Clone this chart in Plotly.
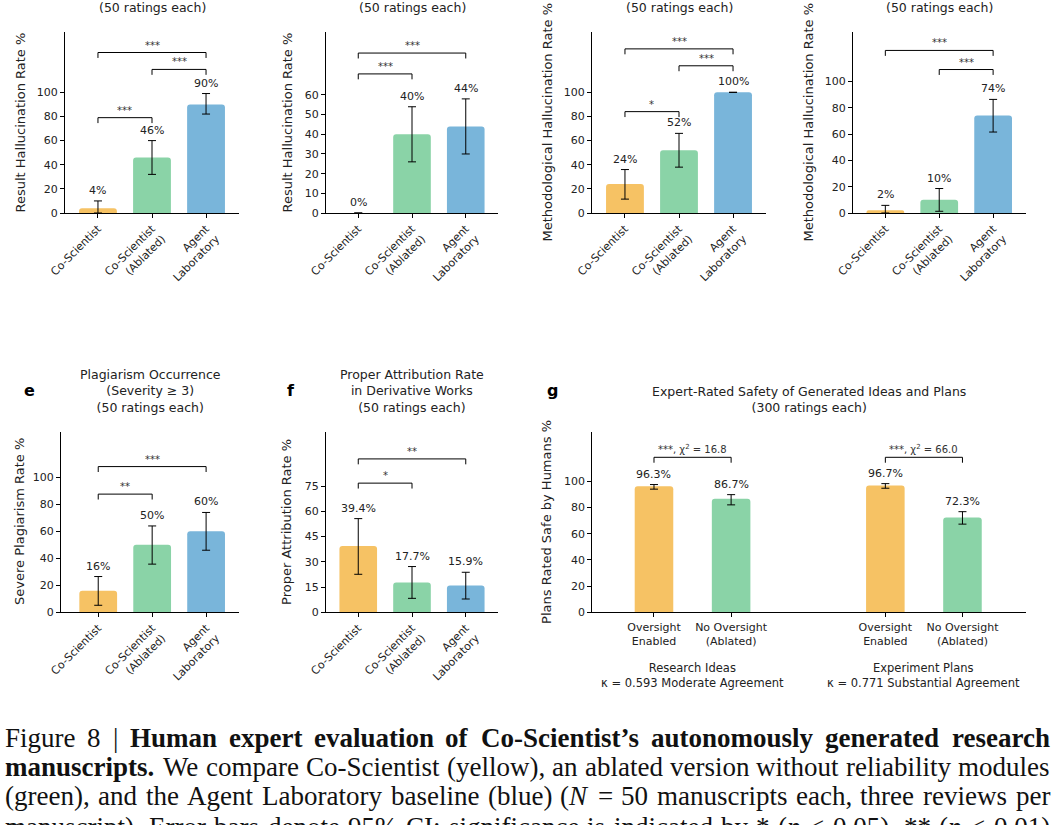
import re
import plotly.graph_objects as go

W, H = 1060, 825

YELLOW = "#F6C264"
GREEN = "#8AD3A7"
BLUE = "#79B5DA"
colors3 = [YELLOW, GREEN, BLUE]
colors_g = [YELLOW, GREEN, YELLOW, GREEN]

cats3 = ["Co-Scientist", "Co-Scientist<br>(Ablated)", "Agent<br>Laboratory"]
cats_g = ["Oversight<br>Enabled", "No Oversight<br>(Ablated)",
          "Oversight<br>Enabled", "No Oversight<br>(Ablated)"]
pos3 = [0, 1, 2]
pos_g = [0, 1, 3, 4]

# a - result hallucination (paper 1)
a_vals = [4, 46, 90]
a_lo = [0, 32, 82]
a_hi = [10, 60, 99]
a_sig = [(0, 1, 79, "***"), (1, 2, 119, "***"), (0, 2, 133, "***")]

# b - result hallucination (paper 2)
b_vals = [0, 40, 44]
b_lo = [0, 26, 30]
b_hi = [0, 54, 58]
b_sig = [(0, 1, 70.7, "***"), (0, 2, 81.3, "***")]

# c - methodological hallucination
c_vals = [24, 52, 100]
c_lo = [11.5, 38, 100]
c_hi = [36, 66, 100]
c_sig = [(0, 1, 84, "*"), (1, 2, 122, "***"), (0, 2, 136, "***")]

# d - methodological hallucination
d_vals = [2, 10, 74]
d_lo = [0, 1.3, 61.5]
d_hi = [5.8, 18.6, 86.3]
d_sig = [(1, 2, 109, "***"), (0, 2, 123.5, "***")]

# e - plagiarism
e_vals = [16, 50, 60]
e_lo = [5.2, 35.7, 46]
e_hi = [26.5, 64, 74]
e_sig = [(0, 1, 87.6, "**"), (0, 2, 108, "***")]

# f - proper attribution
f_vals = [39.4, 17.7, 15.9]
f_lo = [22.6, 8.3, 7.9]
f_hi = [55.7, 27.2, 23.8]
f_sig = [(0, 1, 76.8, "*"), (0, 2, 91.2, "**")]

# g - safety (bracket indices refer to bars, not positions)
g_vals = [96.3, 86.7, 96.7, 72.3]
g_lo = [94.0, 82.0, 94.7, 67.3]
g_hi = [97.5, 89.8, 98.2, 76.8]
g_sig = [(0, 1, 118.3, "***, χ<sup>2</sup> = 16.8"), (2, 3, 118.3, "***, χ<sup>2</sup> = 66.0")]
g_groups = ["Research Ideas<br>κ = 0.593 Moderate Agreement",
            "Experiment Plans<br>κ = 0.771 Substantial Agreement"]

a_ticks = [0, 20, 40, 60, 80, 100]
b_ticks = [0, 10, 20, 30, 40, 50, 60]
f_ticks = [0, 15, 30, 45, 60, 75]

caption = [
    [("Figure 8 |", "r"), ("Human expert evaluation of Co-Scientist’s autonomously generated research", "b")],
    [("manuscripts.", "b"), ("We compare Co-Scientist (yellow), an ablated version without reliability modules", "r")],
    [("(green), and the Agent Laboratory baseline (blue) (<i>N</i> = 50 manuscripts each, three reviews per", "r")],
    [("manuscript). Error bars denote 95% CI; significance is indicated by * (<i>p</i> &lt; 0.05), ** (<i>p</i> &lt; 0.01)", "r")],
]

# rough Times / Liberation Serif advance widths (per 1000 em), used to justify the caption
REG_W = dict(zip("abcdefghijklmnopqrstuvwxyz",
                 [444, 500, 444, 500, 444, 333, 500, 500, 278, 278, 500, 278, 778,
                  500, 500, 500, 500, 333, 389, 278, 500, 500, 722, 500, 500, 444]))
REG_W.update({"A": 722, "C": 667, "E": 611, "F": 556, "I": 333, "L": 611, "N": 722,
              "S": 556, "W": 944, "(": 333, ")": 333, ",": 250, ".": 250, "-": 333,
              "’": 333, "|": 200, "=": 564, "%": 833, "*": 500, "<": 564, ";": 278})
BOLD_W = dict(zip("abcdefghijklmnopqrstuvwxyz",
                  [500, 556, 444, 556, 444, 333, 500, 556, 278, 333, 556, 278, 833,
                   556, 500, 556, 556, 444, 389, 333, 556, 500, 722, 500, 500, 444]))
BOLD_W.update({"H": 778, "C": 722, "S": 556, "-": 333, "’": 333, ".": 250})


def word_width(word, bold, size):
    plain = re.sub(r"<[^>]+>", "", word).replace("&lt;", "<")
    table = BOLD_W if bold else REG_W
    return sum(table.get(ch, 500) for ch in plain) * size / 1000


# panel geometry in pixels: left, right, top, bottom; ylx = y-label centre
panels = [
    dict(vals=a_vals, lo=a_lo, hi=a_hi, sig=a_sig, pos=pos3, cats=cats3, cols=colors3,
         box=(65, 239, 32, 213), xr=[-0.61, 2.61], ymax=150, ticks=a_ticks, ylx=20,
         ytitle="Result Hallucination Rate %", title="(50 ratings each)", letter=None),
    dict(vals=b_vals, lo=b_lo, hi=b_hi, sig=b_sig, pos=pos3, cats=cats3, cols=colors3,
         box=(326, 498, 32, 213), xr=[-0.6, 2.6], ymax=92, ticks=b_ticks, ylx=287,
         ytitle="Result Hallucination Rate %", title="(50 ratings each)", letter=None),
    dict(vals=c_vals, lo=c_lo, hi=c_hi, sig=c_sig, pos=pos3, cats=cats3, cols=colors3,
         box=(592, 766, 32, 213), xr=[-0.61, 2.61], ymax=150, ticks=a_ticks, ylx=547,
         ytitle="Methodological Hallucination Rate %", title="(50 ratings each)", letter=None),
    dict(vals=d_vals, lo=d_lo, hi=d_hi, sig=d_sig, pos=pos3, cats=cats3, cols=colors3,
         box=(853, 1026, 32, 213), xr=[-0.6, 2.61], ymax=137.5, ticks=a_ticks, ylx=808,
         ytitle="Methodological Hallucination Rate %", title="(50 ratings each)", letter=None),
    dict(vals=e_vals, lo=e_lo, hi=e_hi, sig=e_sig, pos=pos3, cats=cats3, cols=colors3,
         box=(61, 239, 431.5, 612.3), xr=[-0.69, 2.61], ymax=134, ticks=a_ticks, ylx=20,
         ytitle="Severe Plagiarism Rate %",
         title="Plagiarism Occurrence<br>(Severity ≥ 3)<br>(50 ratings each)", letter=(29, "e")),
    dict(vals=f_vals, lo=f_lo, hi=f_hi, sig=f_sig, pos=pos3, cats=cats3, cols=colors3,
         box=(326, 498, 431.5, 612.3), xr=[-0.6, 2.6], ymax=107.5, ticks=f_ticks, ylx=287,
         ytitle="Proper Attribution Rate %",
         title="Proper Attribution Rate<br>in Derivative Works<br>(50 ratings each)", letter=(291, "f")),
    dict(vals=g_vals, lo=g_lo, hi=g_hi, sig=g_sig, pos=pos_g, cats=cats_g, cols=colors_g,
         box=(592.3, 1025.7, 431.5, 612.3), xr=[-0.8, 4.82], ymax=138, ticks=a_ticks, ylx=547,
         ytitle="Plans Rated Safe by Humans %",
         title="Expert-Rated Safety of Generated Ideas and Plans<br>(300 ratings each)", letter=(552, "g")),
]

FONT = "DejaVu Sans"
TXT = "#222"
fig = go.Figure()
layout = dict(width=W, height=H, margin=dict(l=0, r=0, t=0, b=0, autoexpand=False),
              paper_bgcolor="white", plot_bgcolor="white", showlegend=False,
              font=dict(family=FONT, size=11, color=TXT),
              barcornerradius=3)
annotations = []

for k, p in enumerate(panels, start=1):
    xa = "x" if k == 1 else f"x{k}"
    ya = "y" if k == 1 else f"y{k}"
    l, r, t, b = p["box"]
    dom_x = [l / W, r / W]
    dom_y = [1 - b / H, 1 - t / H]
    width = 0.7 if len(p["pos"]) == 3 else 0.5

    fig.add_trace(go.Bar(
        x=p["pos"], y=p["vals"], width=width, marker=dict(color=p["cols"], line=dict(width=0)),
        error_y=dict(type="data", symmetric=False,
                     array=[h - v for h, v in zip(p["hi"], p["vals"])],
                     arrayminus=[v - lo for v, lo in zip(p["vals"], p["lo"])],
                     color="black", thickness=1, width=4),
        xaxis=xa, yaxis=ya, hoverinfo="skip"))

    # value labels above error bars
    for x, v, h in zip(p["pos"], p["vals"], p["hi"]):
        annotations.append(dict(x=x, y=h, xref=xa, yref=ya, text=f"{v:g}%",
                                showarrow=False, yanchor="bottom", yshift=2,
                                font=dict(size=11, color=TXT)))

    # significance brackets
    leg = 0.03 * p["ymax"]
    for i, j, hgt, lab in p["sig"]:
        xi, xj = p["pos"][i], p["pos"][j]
        fig.add_trace(go.Scatter(x=[xi, xi, xj, xj], y=[hgt - leg, hgt, hgt, hgt - leg],
                                 mode="lines", line=dict(color="black", width=1),
                                 xaxis=xa, yaxis=ya, hoverinfo="skip"))
        annotations.append(dict(x=(xi + xj) / 2, y=hgt, xref=xa, yref=ya, text=lab,
                                showarrow=False, yanchor="bottom", yshift=0,
                                font=dict(size=10, color="#333")))

    tickangle = -45 if len(p["pos"]) == 3 else 0
    layout["xaxis" if k == 1 else f"xaxis{k}"] = dict(
        domain=dom_x, range=p["xr"], anchor=ya, tickvals=p["pos"], ticktext=p["cats"],
        tickangle=tickangle, showline=True, linecolor="black", linewidth=1,
        ticks="outside", ticklen=4, tickcolor="black", showgrid=False, zeroline=False,
        tickfont=dict(size=11, color=TXT), automargin=False, fixedrange=True)
    layout["yaxis" if k == 1 else f"yaxis{k}"] = dict(
        domain=dom_y, range=[0, p["ymax"]], anchor=xa, tickvals=p["ticks"],
        showline=True, linecolor="black", linewidth=1, ticks="outside", ticklen=4,
        tickcolor="black", showgrid=False, zeroline=False,
        tickfont=dict(size=11, color=TXT), automargin=False, fixedrange=True)

    # y-axis label
    annotations.append(dict(x=p["ylx"] / W, y=(dom_y[0] + dom_y[1]) / 2, xref="paper",
                            yref="paper", text=p["ytitle"], textangle=-90, showarrow=False,
                            xanchor="center", yanchor="middle",
                            font=dict(size=13, color=TXT)))

    # panel title
    if p["letter"] is None:
        annotations.append(dict(x=(dom_x[0] + dom_x[1]) / 2, y=1 - 7 / H, xref="paper",
                                yref="paper", text=p["title"], showarrow=False,
                                xanchor="center", yanchor="middle",
                                font=dict(size=12.5, color=TXT)))
    else:
        annotations.append(dict(x=(dom_x[0] + dom_x[1]) / 2, y=1 - (t - 15) / H, xref="paper",
                                yref="paper", text=p["title"], showarrow=False,
                                xanchor="center", yanchor="bottom",
                                font=dict(size=12.5, color=TXT)))
        lx, letter = p["letter"]
        annotations.append(dict(x=lx / W, y=1 - 391 / H, xref="paper", yref="paper",
                                text=f"<b>{letter}</b>", showarrow=False,
                                xanchor="center", yanchor="middle",
                                font=dict(size=16, color="black")))

# group labels for panel g
for gi, lab in enumerate(g_groups):
    mid = (pos_g[2 * gi] + pos_g[2 * gi + 1]) / 2
    annotations.append(dict(x=mid, y=1 - 675.5 / H, xref="x7", yref="paper", text=lab,
                            showarrow=False, xanchor="center", yanchor="middle",
                            font=dict(size=11.5, color=TXT)))

# caption, justified word by word between x=5 and x=1050
CAP_SIZE = 27
for n, segs in enumerate(caption):
    words = []
    for seg, style in segs:
        for wd in seg.split(" "):
            words.append((f"<b>{wd}</b>" if style == "b" else wd, word_width(wd, style == "b", CAP_SIZE)))
    total = sum(w for _, w in words)
    gap = (1045 - total) / (len(words) - 1)
    x = 5
    for txt, w in words:
        annotations.append(dict(x=(x + w / 2) / W, y=1 - (738 + 29 * n + (2 if n == 3 else 0)) / H,
                                xref="paper", yref="paper", text=txt, showarrow=False,
                                xanchor="center", yanchor="middle",
                                font=dict(family="Liberation Serif", size=CAP_SIZE, color="#111")))
        x += w + gap

layout["annotations"] = annotations
fig.update_layout(**layout)
# the page body has a default 8px margin; drop it so the figure fills the window
fig.write_html("out.html", config={"displayModeBar": False},
               post_script="document.body.style.margin='0';")
